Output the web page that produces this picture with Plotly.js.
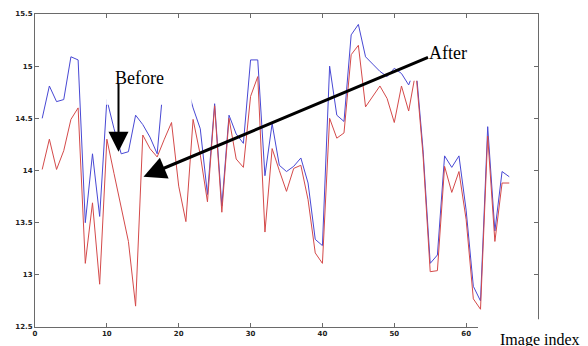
<!DOCTYPE html>
<html>
<head>
<meta charset="utf-8">
<script src="https://cdn.plot.ly/plotly-3.0.1.min.js"></script>
<style>html,body{margin:0;padding:0;background:#fff;}#chart{width:588px;height:346px;}</style>
</head>
<body>
<div id="chart"></div>
<script>
var imageIndex = [1,2,3,4,5,6,7,8,9,10,11,12,13,14,15,16,17,18,19,20,21,22,23,24,25,26,27,28,29,30,31,32,33,34,35,36,37,38,39,40,41,42,43,44,45,46,47,48,49,50,51,52,53,54,55,56,57,58,59,60,61,62,63,64,65,66];

var beforeValues = [14.50,14.81,14.66,14.68,15.09,15.06,13.50,14.16,13.56,14.68,
  14.40,14.16,14.18,14.53,14.44,14.32,14.16,14.93,14.85,14.80,
  14.85,14.60,14.40,13.77,14.64,13.66,14.53,14.35,14.26,15.06,
  15.06,13.95,14.45,14.05,13.99,14.04,14.12,13.88,13.34,13.28,
  15.00,14.53,14.47,15.30,15.40,15.09,15.02,14.95,14.90,14.98,
  14.93,14.82,15.00,14.20,13.11,13.19,14.14,14.03,14.14,13.62,
  12.89,12.75,14.42,13.42,13.99,13.94];

var afterValues = [14.01,14.30,14.01,14.19,14.49,14.60,13.11,13.69,12.91,14.30,
  13.97,13.63,13.32,12.70,14.34,14.21,14.13,14.30,14.46,13.85,
  13.51,14.49,14.15,13.70,14.62,13.60,14.50,14.11,14.03,14.71,
  14.90,13.41,14.21,14.00,13.80,14.02,14.05,13.72,13.21,13.11,
  14.50,14.31,14.36,15.11,15.20,14.61,14.71,14.81,14.69,14.46,
  14.81,14.57,14.95,14.15,13.03,13.04,14.04,13.79,13.99,13.53,
  12.77,12.67,14.33,13.32,13.88,13.88];

var xTicks = [0,10,20,30,40,50,60];
var yTicks = [12.5,13,13.5,14,14.5,15,15.5];

var axisColor = '#6a6a6a';
var tickFont = {family: 'DejaVu Sans', size: 7, weight: 'bold', color: '#222'};

var traces = [
  {x: imageIndex, y: beforeValues, type: 'scatter', mode: 'lines', name: 'Before',
   line: {color: '#4848d4', width: 1}},
  {x: imageIndex, y: afterValues, type: 'scatter', mode: 'lines', name: 'After',
   line: {color: '#d44a4a', width: 1}}
];

var layout = {
  width: 588, height: 346,
  margin: {l: 35, r: 50, t: 14, b: 19, pad: 0},
  paper_bgcolor: '#fff', plot_bgcolor: '#fff',
  showlegend: false,
  xaxis: {range: [0, 70], tickvals: xTicks, ticks: 'inside', ticklen: 4, tickcolor: axisColor,
    showline: true, linecolor: axisColor, linewidth: 1, mirror: 'ticks',
    showgrid: false, zeroline: false, tickfont: tickFont},
  yaxis: {range: [12.5, 15.5], tickvals: yTicks, ticks: 'inside', ticklen: 4, tickcolor: axisColor,
    showline: true, linecolor: axisColor, linewidth: 1, mirror: 'ticks',
    showgrid: false, zeroline: false, tickfont: tickFont},
  shapes: [
    {type: 'rect', xref: 'x', yref: 'y', x0: 9.9, x1: 21.8, y0: 14.63, y1: 15.02,
     fillcolor: '#fff', line: {width: 0}, layer: 'above'},
    {type: 'rect', xref: 'x', yref: 'y', x0: 52.05, x1: 61, y0: 14.86, y1: 15.3,
     fillcolor: '#fff', line: {width: 0}, layer: 'above'},
    {type: 'rect', xref: 'paper', yref: 'paper', x0: 0.8807, x1: 1.2, y0: -0.2, y1: 0.0246,
     fillcolor: '#fff', line: {width: 0}, layer: 'above'}
  ],
  annotations: [
    {xref: 'x', yref: 'y', x: 10.85, y: 15.0, xanchor: 'left', yanchor: 'top', showarrow: false,
     text: 'Before', font: {family: 'Liberation Serif', size: 18, color: '#000'}},
    {xref: 'x', yref: 'y', x: 54.5, y: 15.24, xanchor: 'left', yanchor: 'top', showarrow: false,
     text: 'After', font: {family: 'Liberation Serif', size: 18, color: '#000'}},
    {xref: 'x', yref: 'y', x: 11.62, y: 14.18, ax: 0, ay: -70, showarrow: true, text: ' ',
     font: {size: 1}, arrowhead: 2, arrowwidth: 2, arrowsize: 2, arrowcolor: '#000'},
    {xref: 'x', yref: 'y', x: 15.1, y: 13.94, ax: 286, ay: -120, showarrow: true, text: ' ',
     font: {size: 1}, arrowhead: 2, arrowwidth: 3, arrowsize: 1.5, arrowcolor: '#000'},
    {xref: 'paper', yref: 'paper', x: 0.9205, y: -0.006, xanchor: 'left', yanchor: 'top', showarrow: false,
     text: 'Image index', font: {family: 'Liberation Serif', size: 16, color: '#000'}}
  ]
};

Plotly.newPlot('chart', traces, layout, {staticPlot: true, displayModeBar: false});
</script>
</body>
</html>
